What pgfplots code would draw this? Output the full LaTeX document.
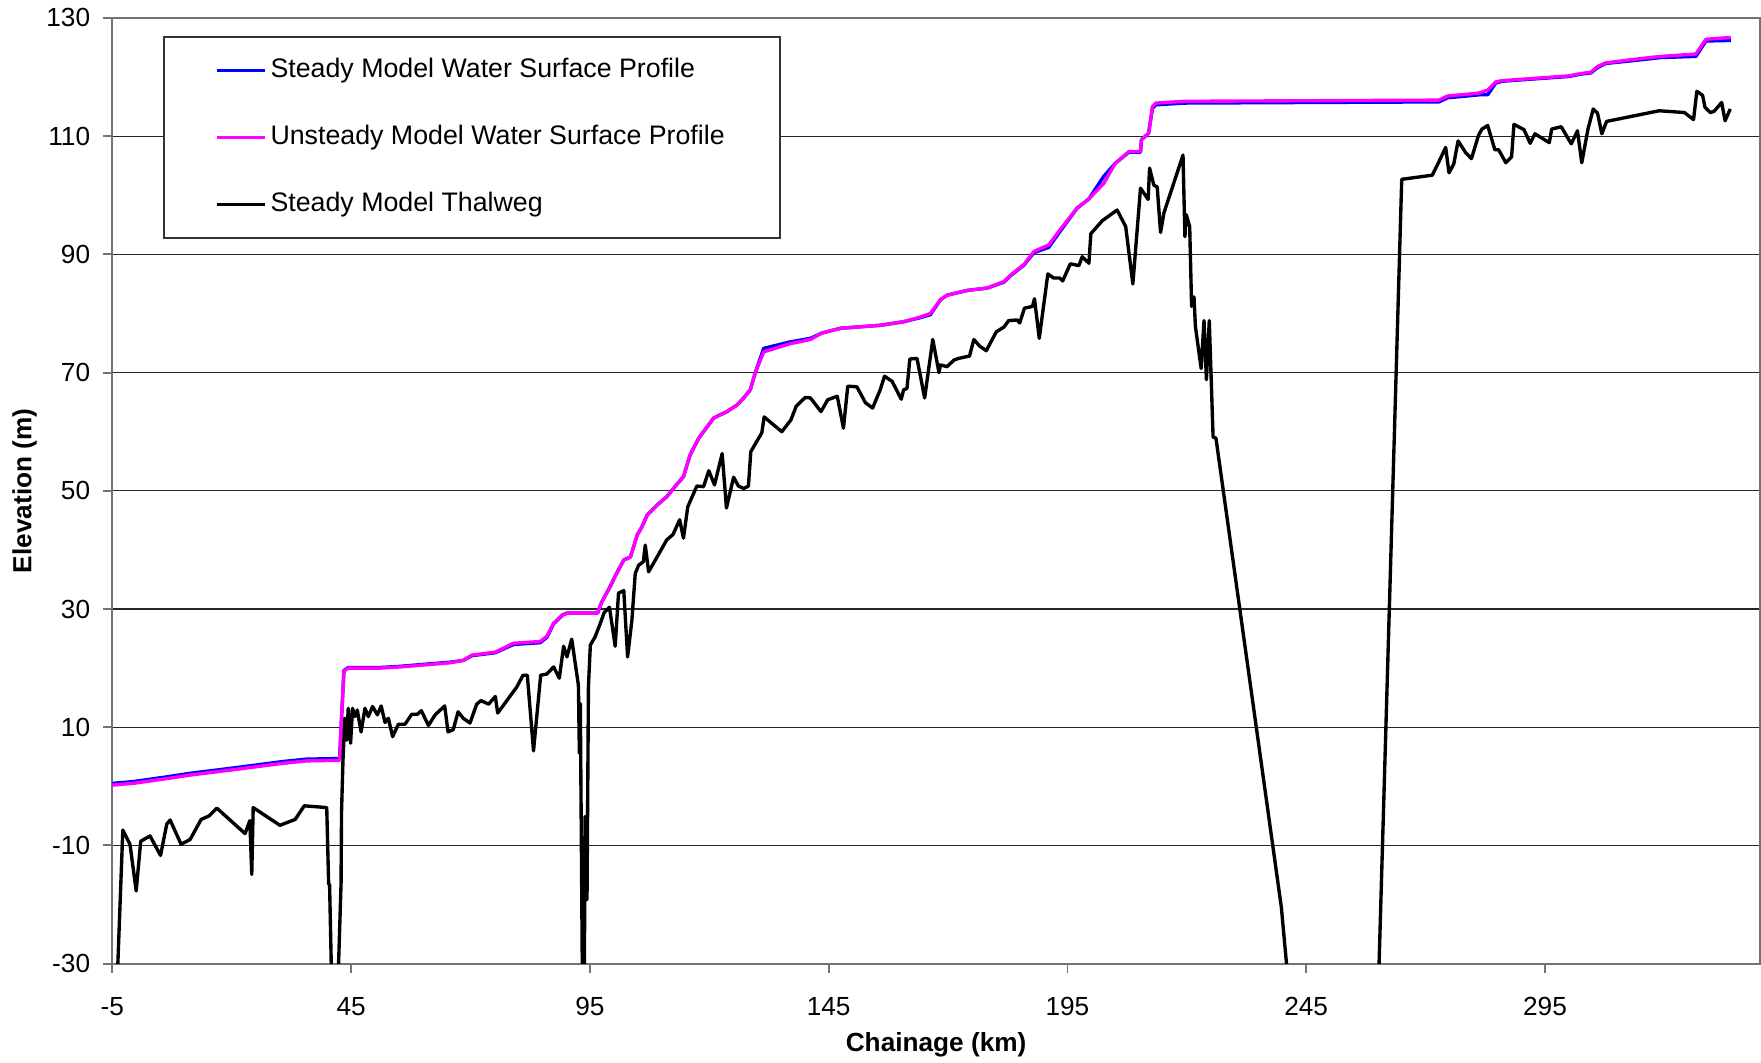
\documentclass[border=0pt]{standalone}
\usepackage{pgfplots}
\pgfplotsset{compat=1.18}
\usepackage{fontspec}
\setmainfont{Liberation Sans}
\definecolor{steadyblue}{RGB}{0,0,255}
\definecolor{unsteadymag}{RGB}{255,0,255}
\begin{document}
\begin{tikzpicture}
\begin{axis}[
  name=ax,
  scale only axis,
  width=440.1pt, height=252.6pt,
  xmin=-5, xmax=340, ymin=-30, ymax=130,
  xtick={-5,45,95,145,195,245,295},
  ytick={-30,-10,10,30,50,70,90,110,130},
  ymajorgrids,
  major grid style={black!85, line width=0.35pt},
  axis line style={black!55, line width=0.5pt},
  tick align=outside, tick pos=left,
  major tick length=2.4pt,
  tick style={black!55, line width=0.5pt},
  ticklabel style={font=\fontsize{7}{8}\selectfont, /pgf/number format/assume math mode=true},
  xticklabel style={yshift=-3pt},
  xlabel={\bfseries Chainage (km)},
  ylabel={\bfseries Elevation (m)},
  label style={font=\fontsize{7}{8}\selectfont},
  xlabel style={at={(axis description cs:0.5,-0.0855)}, anchor=center},
  ylabel style={at={(axis description cs:-0.0532,0.5)}, anchor=center, rotate=0},
  legend style={at={(axis description cs:0.0307,0.981)}, anchor=north west,
    draw=black!80, line width=0.5pt, fill=white,
    font=\fontsize{7.15}{8}\selectfont,
    inner xsep=13.7pt, inner ysep=4.6pt, row sep=9.2pt,
    nodes={inner sep=1pt, anchor=west}},
  legend cell align=left,
  legend image code/.code={\draw[#1, line width=0.9pt] (0pt,0pt) -- (12.9pt,0pt);},
  every axis plot/.append style={line width=0.9pt, line join=round},
]
% Steady model water surface profile
\addplot[steadyblue, mark=none] coordinates {
(-5,0.5) (-0.6,0.8) (6.4,1.6) (11.3,2.2) (20.3,3.1) (30.8,4.2) (35.7,4.6) (42.6,4.7)
(43.0,11.5) (43.5,19.6) (44.4,20.1) (51.1,20.1) (55.3,20.3) (65.7,21.0) (68.5,21.3)
(70.3,22.1) (75.2,22.6) (79.0,24.0) (84.6,24.3) (86.0,25.2) (87.4,27.5) (89.3,29.0)
(90.2,29.3) (96.6,29.3) (97.5,31.2) (99.3,33.9) (100.3,35.6) (102.1,38.3) (103.5,38.8)
(104.9,42.5) (105.9,43.9) (107.0,45.9) (109.1,47.6) (111.1,49.0) (112.5,50.4)
(114.6,52.4) (116.0,56.1) (117.8,58.9) (120.9,62.3) (123.7,63.4) (125.8,64.5)
(127.2,65.7) (128.6,67.1) (129.6,69.9) (131.4,74.1) (137.0,75.2) (141.2,75.8)
(143.6,76.7) (147.5,77.5) (155.8,78.0) (160.7,78.6) (164.2,79.3) (166.3,79.8)
(168.4,82.3) (169.8,83.1) (174.0,83.9) (178.2,84.3) (181.7,85.3) (183.1,86.4)
(185.9,88.2) (188.0,90.3) (191.1,91.2) (193.2,93.6) (197.0,97.8) (199.5,99.4)
(202.6,103.2) (205.0,105.4) (207.9,107.3) (210.3,107.3) (210.5,109.4) (212.0,110.5)
(212.8,114.7) (213.5,115.3) (219.4,115.6) (272.8,115.8) (274.6,116.5) (278.7,116.8)
(281.2,117.0) (283.0,117.0) (284.7,119.0) (286.1,119.3) (300.0,120.1) (302.5,120.5)
(304.6,120.7) (306.0,121.6) (307.7,122.3) (313.7,122.8) (319.2,123.3) (326.6,123.5)
(328.7,126.1) (333.9,126.2)
};
\addlegendentry{Steady Model Water Surface Profile}
% Unsteady model water surface profile
\addplot[unsteadymag, mark=none] coordinates {
(-5,0.2) (-0.6,0.5) (6.4,1.3) (11.3,1.9) (20.3,2.8) (30.8,3.9) (35.7,4.3) (42.6,4.4)
(43.0,11.5) (43.5,19.5) (44.4,20.0) (51.1,20.0) (55.3,20.2) (65.7,20.9) (68.5,21.3)
(70.3,22.2) (75.2,22.7) (79.0,24.2) (84.6,24.5) (86.0,25.4) (87.4,27.6) (89.3,29.0)
(90.2,29.3) (96.6,29.3) (97.5,31.2) (99.3,33.8) (100.3,35.5) (102.1,38.3) (103.5,38.8)
(104.9,42.5) (105.9,43.9) (107.0,45.9) (109.1,47.6) (111.1,49.0) (112.5,50.4)
(114.6,52.4) (116.0,56.1) (117.8,58.9) (120.9,62.3) (123.7,63.4) (125.8,64.5)
(127.2,65.7) (128.6,67.1) (129.6,69.9) (131.4,73.5) (137.0,74.9) (141.2,75.6)
(143.6,76.7) (147.5,77.5) (155.8,78.0) (160.7,78.6) (164.2,79.4) (166.3,80.0)
(168.4,82.3) (169.8,83.1) (174.0,83.9) (178.2,84.3) (181.7,85.4) (183.1,86.5)
(185.9,88.3) (188.0,90.5) (191.1,91.6) (193.2,93.9) (197.0,97.8) (199.5,99.4)
(202.6,102.0) (205.0,105.4) (207.9,107.4) (210.3,107.4) (210.5,109.4) (212.0,110.5)
(212.8,115.0) (213.5,115.6) (219.4,115.9) (272.8,116.1) (274.6,116.8) (278.7,117.1)
(281.2,117.3) (283.0,117.8) (284.7,119.2) (286.1,119.4) (300.0,120.2) (302.5,120.6)
(304.6,120.8) (306.0,121.8) (307.7,122.4) (313.7,123.0) (319.2,123.5) (326.6,123.9)
(328.7,126.4) (333.9,126.7)
};
\addlegendentry{Unsteady Model Water Surface Profile}
% Steady model thalweg
\addplot[black, mark=none] coordinates {
(-4.3,-40) (-2.8,-7.4) (-1.3,-9.8) (0.0,-17.7) (0.95,-9.3) (2.9,-8.4) (5.1,-11.7)
(6.4,-6.4) (7.1,-5.7) (9.4,-9.8) (11.3,-9.0) (13.6,-5.6) (15.3,-5.0) (16.9,-3.7)
(22.8,-8.0) (23.8,-5.8) (24.2,-14.9) (24.5,-3.6) (30.1,-6.6) (33.3,-5.6) (35.2,-3.3)
(39.9,-3.6) (40.3,-16.5) (40.5,-16.7) (41.1,-40) (42.0,-40) (42.9,-16.4) (43.0,-4.3)
(43.3,4.4) (43.7,11.5) (44.1,7.8) (44.4,13.2) (44.9,7.3) (45.3,13.2) (45.8,11.8)
(46.3,12.9) (47.1,9.2) (47.9,13.2) (48.6,11.8) (49.5,13.5) (50.5,12.1) (51.3,13.6)
(52.1,10.8) (52.8,11.5) (53.7,8.4) (54.9,10.5) (56.3,10.5) (57.7,12.2) (58.9,12.2)
(59.7,12.8) (61.2,10.3) (62.6,12.1) (64.6,13.6) (65.3,9.2) (66.4,9.6) (67.4,12.6)
(68.5,11.5) (69.9,10.7) (71.3,13.9) (72.2,14.5) (73.8,13.9) (75.2,15.2) (75.7,12.4)
(79.7,16.8) (81.0,18.8) (81.9,18.8) (83.2,6.0) (84.7,18.8) (86.0,19.0) (87.4,20.2)
(88.6,18.3) (89.5,23.7) (90.2,21.9) (91.2,24.9) (92.6,17.1) (92.8,5.6) (93.0,14.0)
(93.5,-40) (93.8,-40) (94.0,-5.1) (94.4,-19.2) (94.7,16.9) (95.1,23.9) (96.1,25.3)
(97.2,27.6) (98.0,29.4) (99.1,30.3) (100.3,23.7) (101.0,32.7) (102.1,33.1) (102.9,21.9)
(103.8,28.1) (104.5,36.0) (105.2,37.4) (106.2,38.0) (106.6,40.8) (107.3,36.3)
(108.3,37.7) (109.7,39.7) (111.1,41.7) (112.4,42.6) (113.8,45.1) (114.6,42.0)
(115.5,47.3) (117.4,50.8) (118.8,50.7) (119.9,53.4) (121.1,51.0) (122.7,56.3)
(123.6,47.1) (125.1,52.3) (126.1,50.8) (127.2,50.4) (128.2,50.8) (128.7,56.6)
(129.9,58.3) (131.0,59.8) (131.5,62.5) (133.1,61.4) (135.2,60.0) (137.1,62.0)
(138.2,64.3) (140.1,65.8) (141.2,65.7) (143.4,63.4) (144.8,65.4) (146.8,66.0)
(148.1,60.6) (149.0,67.7) (150.9,67.6) (152.7,64.9) (154.2,64.0) (155.8,67.1)
(156.7,69.4) (158.3,68.5) (160.2,65.5) (160.7,67.1) (161.4,67.3) (162.0,72.3)
(163.5,72.4) (165.1,65.7) (166.8,75.6) (168.1,70.0) (168.4,71.3) (169.8,71.0)
(171.2,72.1) (172.2,72.4) (174.5,72.8) (175.4,75.6) (176.6,74.5) (178.0,73.7)
(180.1,76.9) (181.7,77.7) (182.7,78.8) (184.5,78.9) (185.0,78.4) (186.0,80.9)
(187.7,81.2) (188.1,82.5) (189.1,75.8) (190.9,86.7) (192.1,86.0) (193.4,86.0)
(194.0,85.5) (195.6,88.4) (197.4,88.1) (198.1,89.6) (199.5,88.5) (199.9,93.5)
(202.3,95.7) (205.4,97.5) (207.2,94.7) (208.7,85.0) (210.3,101.2) (211.9,99.3)
(212.2,104.6) (213.1,101.7) (213.8,101.4) (214.5,93.7) (215.2,97.0) (219.2,106.8)
(219.6,93.0) (219.9,96.7) (220.6,94.7) (221.0,81.2) (221.5,82.8) (221.8,77.8)
(223.0,70.7) (223.6,78.8) (224.1,68.8) (224.7,78.8) (225.5,59.1) (226.1,58.9)
(233.7,14.9) (239.8,-20.5) (242.0,-40) (259.9,-40) (265.0,102.7) (271.4,103.4)
(272.8,105.7) (274.2,108.1) (274.9,103.8) (275.9,105.3) (276.8,109.2) (278.4,107.2)
(279.6,106.2) (281.1,110.2) (281.8,111.2) (283.0,111.8) (284.5,107.7) (285.3,107.7)
(286.8,105.5) (288.0,106.5) (288.5,112.0) (290.6,111.1) (291.9,108.8) (292.9,110.4)
(295.9,108.9) (296.4,111.2) (298.4,111.6) (300.5,108.7) (301.8,110.9) (302.7,105.5)
(304.0,111.2) (305.1,114.6) (306.0,113.9) (306.9,110.4) (307.9,112.5) (318.9,114.3)
(324.2,114.0) (326.1,112.8) (326.8,117.6) (328.0,116.9) (328.5,114.9) (329.6,114.0)
(330.4,114.2) (332.0,115.7) (332.7,112.6) (333.8,114.6)
};
\addlegendentry{Steady Model Thalweg}
\end{axis}
\pgfresetboundingbox
\path ([shift={(-30pt,-26.4pt)}]ax.south west) rectangle ([shift={(0.3pt,4.8pt)}]ax.north east);
\end{tikzpicture}
\end{document}
